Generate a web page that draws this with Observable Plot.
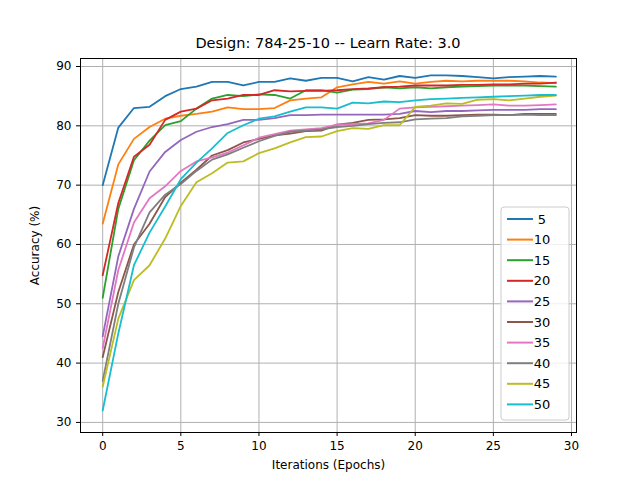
<!DOCTYPE html>
<html>
<head>
<meta charset="utf-8">
<script src="https://cdn.jsdelivr.net/npm/d3@7"></script>
<script src="https://cdn.jsdelivr.net/npm/@observablehq/plot@0.6"></script>
<style>
  body { margin: 0; background: #fff; font-family: "DejaVu Sans", sans-serif; }
</style>
</head>
<body>
<div id="chart"></div>
<script>
const hidden = [5, 10, 15, 20, 25, 30, 35, 40, 45, 50]
const colors = ["#1f77b4", "#ff7f0e", "#2ca02c", "#d62728", "#9467bd",
  "#8c564b", "#e377c2", "#7f7f7f", "#bcbd22", "#17becf"]

const acc5  = [70, 79.7, 83, 83.2, 85, 86.2, 86.6, 87.4, 87.4, 86.8, 87.4, 87.4, 88, 87.6, 88.1, 88.1, 87.5, 88.2, 87.8, 88.4, 88.1, 88.5, 88.5, 88.4, 88.2, 88, 88.2, 88.3, 88.4, 88.3]
const acc10 = [63.5, 73.5, 77.8, 79.8, 81.2, 81.7, 82, 82.4, 83.1, 82.8, 82.8, 83, 84.3, 84.6, 84.8, 86.5, 87, 87.4, 87.1, 87.5, 87.1, 87.4, 87.6, 87.5, 87.6, 87.6, 87.6, 87.5, 87.3, 87.2]
const acc15 = [51, 66, 74.2, 77.5, 80.1, 80.8, 82.9, 84.6, 85.2, 85, 85.3, 85.2, 84.6, 86, 86, 85.6, 86.1, 86.2, 86.5, 86.3, 86.5, 86.3, 86.5, 86.6, 86.7, 86.8, 86.8, 86.8, 86.7, 86.6]
const acc20 = [54.8, 67, 74.8, 76.8, 81, 82.4, 82.9, 84.3, 84.6, 85.2, 85.2, 86, 85.8, 85.9, 85.9, 86, 86.2, 86.3, 86.5, 86.6, 86.8, 86.8, 86.8, 86.9, 86.9, 87, 87, 87.1, 87.1, 87.3]
const acc25 = [44.5, 58, 66, 72.3, 75.6, 77.6, 79, 79.8, 80.3, 81, 81, 81.3, 81.8, 81.8, 81.9, 81.9, 81.9, 81.9, 81.9, 82, 82.5, 82.3, 82.5, 82.5, 82.6, 82.7, 82.7, 82.7, 82.8, 82.8]
const acc30 = [41, 52, 60, 63.5, 68, 70.4, 72.6, 75, 75.9, 77.2, 77.8, 78.4, 78.7, 79.1, 79.2, 80.2, 80.5, 81, 81.1, 81.3, 81.8, 81.7, 81.7, 81.8, 81.9, 81.9, 81.8, 82, 82, 82]
const acc35 = [42.5, 55.7, 63.7, 67.8, 69.8, 72.4, 74, 74.7, 75.5, 76.7, 78, 78.6, 79.2, 79.4, 79.6, 80.2, 80.3, 80.4, 81, 82.9, 83.1, 83.2, 83.3, 83.4, 83.5, 83.6, 83.4, 83.4, 83.5, 83.6]
const acc40 = [37, 50, 59.5, 65.4, 68.4, 70.2, 72.4, 74.3, 75.2, 76.3, 77.4, 78.3, 79, 79.2, 79.4, 79.8, 80, 80.3, 80.5, 80.6, 81.1, 81.2, 81.3, 81.6, 81.7, 81.8, 81.8, 81.9, 81.8, 81.8]
const acc45 = [36, 47.5, 54, 56.5, 61, 66.5, 70.5, 72, 73.8, 74, 75.4, 76.2, 77.2, 78.1, 78.2, 79.1, 79.6, 79.5, 80.1, 80.1, 83.2, 83.4, 83.8, 83.7, 84.4, 84.5, 84.3, 84.6, 84.9, 85.1]
const acc50 = [32, 45, 56.5, 62, 66.4, 71, 73.8, 76.2, 78.8, 80.1, 81.2, 81.6, 82.4, 83.1, 83.1, 82.9, 83.9, 83.8, 84.1, 84, 84.3, 84.5, 84.6, 84.7, 84.8, 84.9, 85, 85.1, 85.2, 85.2]

const series = [acc5, acc10, acc15, acc20, acc25, acc30, acc35, acc40, acc45, acc50]
const rows = series.flatMap((s, i) => s.map((v, e) => ({epoch: e, acc: v, hidden: String(hidden[i])})))

// matplotlib-style legend box, drawn in pixel space
function legend(index, scales, values, dims) {
  const g = d3.create("svg:g")
  const x0 = dims.width - dims.marginRight - 75, y0 = 175
  g.append("rect").attr("x", x0).attr("y", y0).attr("width", 68).attr("height", 213)
    .attr("rx", 3).attr("fill", "white").attr("fill-opacity", 0.8).attr("stroke", "#ccc")
  hidden.forEach((h, i) => {
    const y = y0 + 12 + i * 20.6
    g.append("line").attr("x1", x0 + 6).attr("x2", x0 + 32).attr("y1", y).attr("y2", y)
      .attr("stroke", colors[i]).attr("stroke-width", 2)
    g.append("text").attr("x", x0 + 41).attr("y", y).attr("dy", "0.35em")
      .attr("font-size", 13).attr("fill", "#000").text(h)
  })
  return g.node()
}

const chart = Plot.plot({
  width: 640,
  height: 448,
  marginLeft: 80,
  marginRight: 64,
  marginTop: 26,
  marginBottom: 48,
  style: {fontFamily: "DejaVu Sans", fontSize: "12px", color: "#000"},
  x: {domain: [-1.42, 30.32], ticks: [0, 5, 10, 15, 20, 25, 30], tickSize: 4, label: "Iterations (Epochs)", labelAnchor: "center", labelArrow: "none", labelOffset: 36},
  y: {domain: [28.3, 91.35], ticks: [30, 40, 50, 60, 70, 80, 90], tickSize: 4, label: "Accuracy (%)", labelAnchor: "center", labelArrow: "none", labelOffset: 50},
  color: {domain: hidden.map(String), range: colors},
  marks: [
    Plot.gridX([0, 5, 10, 15, 20, 25, 30], {stroke: "#b0b0b0", strokeOpacity: 1}),
    Plot.gridY([30, 40, 50, 60, 70, 80, 90], {stroke: "#b0b0b0", strokeOpacity: 1}),
    Plot.line(rows, {x: "epoch", y: "acc", stroke: "hidden", z: "hidden", strokeWidth: 1.8}),
    Plot.frame({stroke: "#000"}),
    legend
  ]
})

const wrap = d3.select("#chart")
wrap.append("div")
  .style("height", "32px").style("position", "relative")
  .append("div")
  .style("position", "absolute").style("left", "16px").style("right", "0").style("top", "34px")
  .style("text-align", "center").style("font-size", "14.5px").style("line-height", "18px")
  .style("z-index", "1")
  .text("Design: 784-25-10 -- Learn Rate: 3.0")
wrap.append(() => chart)
</script>
</body>
</html>
